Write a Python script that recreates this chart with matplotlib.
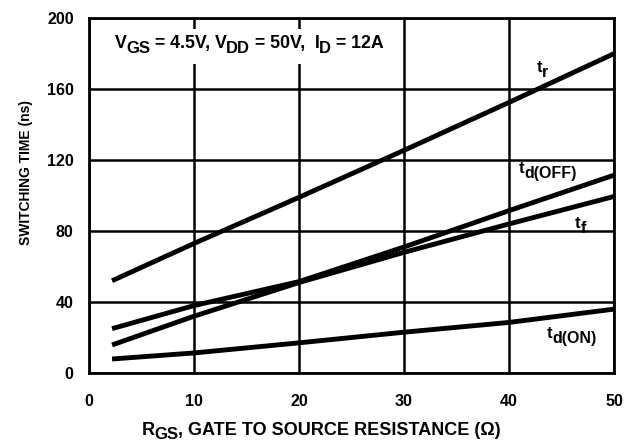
import numpy as np
import matplotlib
matplotlib.use("Agg")
import matplotlib.pyplot as plt
from matplotlib.transforms import offset_copy, Bbox
from matplotlib.patches import Rectangle

plt.rcParams["font.family"] = "Liberation Sans"
plt.rcParams["font.weight"] = "bold"
plt.rcParams["axes.labelweight"] = "bold"

# values
rgs = [2.2, 10, 20, 30, 40, 50]
t_r = [52, 73, 99, 125.5, 152.5, 180]
t_doff = [25, 38, 51.5, 71, 91.5, 111.5]
t_f = [15.8, 32, 51, 68, 84, 99.5]
t_don = [7.9, 11.3, 17, 23, 28.5, 36]

# curve labels as (base, subscript)
curve_labels = [("t", "r"), ("t", "d(OFF)"), ("t", "f"), ("t", "d(ON)")]
label_x = [42.6, 40.9, 46.3, 43.6]
label_y = [169.5, 113, 82, 19.8]

xticks = [0, 10, 20, 30, 40, 50]
yticks = [0, 40, 80, 120, 160, 200]

fig = plt.figure(figsize=(6.31, 4.43), dpi=100)
ax = fig.add_axes([0.141, 0.158, 0.832, 0.801])
ax.set_xlim(0, 50)
ax.set_ylim(0, 200)
renderer = fig.canvas.get_renderer()


def sub_text(x, y, parts, size, subsize, drop, transform, tight=0, zorder=4):
    # draw text pieces one after another, subscripts lowered by drop pixels
    dx = 0
    out = []
    for i, (txt, is_sub) in enumerate(parts):
        tr = offset_copy(transform, x=dx, y=-drop if is_sub else 0, units="dots")
        t = ax.text(x, y, txt, fontsize=subsize if is_sub else size,
                    transform=tr, ha="left", va="baseline", zorder=zorder,
                    clip_on=False)
        dx += t.get_window_extent(renderer).width
        if i + 1 < len(parts) and parts[i + 1][1]:
            dx -= tight
        out.append(t)
    return out


for ys in [t_r, t_doff, t_f, t_don]:
    ax.plot(rgs, ys, color="black", lw=3.5, solid_capstyle="butt", zorder=3)

for (base, sub), lx, ly in zip(curve_labels, label_x, label_y):
    sub_text(lx, ly, [(base, False), (sub, True)], 12, 11.5, 5, ax.transData)

cond = [("V", False), ("GS", True), (" = 4.5V, V", False), ("DD", True),
        (" = 50V,  I", False), ("D", True), (" = 12A", False)]
pieces = sub_text(2.5, 183, cond, 12.8, 12, 5, ax.transData, tight=1)
bb = Bbox.union([p.get_window_extent(renderer) for p in pieces])
(x0, y0), (x1, y1) = ax.transData.inverted().transform(
    [(bb.x0 - 8, bb.y0 - 8), (bb.x1 + 8, bb.y1 + 6)])
ax.add_patch(Rectangle((x0, y0), x1 - x0, y1 - y0, facecolor="white",
                       edgecolor="none", zorder=2))

ax.set_xticks(xticks)
ax.set_yticks(yticks)
ax.grid(True, color="black", lw=1.8, zorder=1)
ax.tick_params(length=0, labelsize=11.5)
ax.tick_params(axis="x", pad=15)
ax.tick_params(axis="y", pad=11)
for s in ax.spines.values():
    s.set_linewidth(2.0)

sub_text(0.101, -0.175, [("R", False), ("GS", True),
                         (", GATE TO SOURCE RESISTANCE (\u03a9)", False)],
         13, 12, 4, ax.transAxes, tight=1)

ax.set_ylabel("SWITCHING TIME (ns)", fontsize=10)
ax.yaxis.set_label_coords(-0.107, 0.566)

fig.savefig("out.png", dpi=100)
